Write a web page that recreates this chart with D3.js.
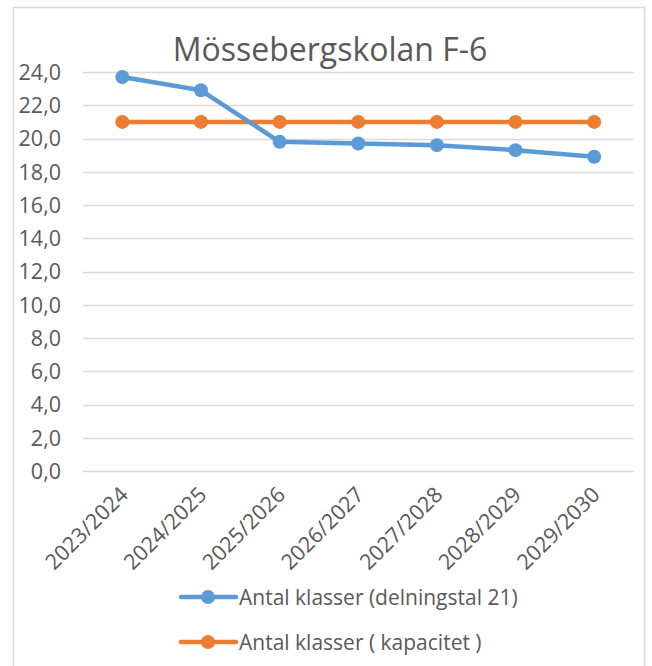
<!DOCTYPE html>
<html><head><meta charset="utf-8">
<script src="https://cdn.jsdelivr.net/npm/d3@7"></script>
<style>body{margin:0;background:#fff;}</style>
</head><body><svg id="c" width="652" height="666"></svg>
<script>
const categories = ["2023/2024","2024/2025","2025/2026","2026/2027","2027/2028","2028/2029","2029/2030"];
const seriesDelning = [23.7, 22.9, 19.8, 19.7, 19.6, 19.3, 18.9];
const seriesKapacitet = [21, 21, 21, 21, 21, 21, 21];
const seriesNames = ["Antal klasser (delningstal 21)", "Antal klasser ( kapacitet )"];
const yTicks = [0,2,4,6,8,10,12,14,16,18,20,22,24];
const title = "Mössebergskolan F-6";

const svg = d3.select("#c");
const font = '"Open Sans","Liberation Sans",sans-serif';
svg.append("rect").attr("x",13.5).attr("y",7.5).attr("width",631).attr("height",670)
  .attr("fill","#fff").attr("stroke","#d9d9d9").attr("stroke-width",1.5);

const x = d3.scaleBand().domain(categories).range([83,633.5]);
const y = d3.scaleLinear().domain([0,24]).range([471,72]);

svg.append("text").attr("x",330).attr("y",61).attr("text-anchor","middle")
  .attr("font-family",font).attr("font-size",32).attr("fill","#595959").text(title);

const grid = svg.append("g");
grid.selectAll("line").data(yTicks).join("line")
  .attr("x1",83).attr("x2",633.5).attr("y1",d=>Math.round(y(d))+0.5).attr("y2",d=>Math.round(y(d))+0.5)
  .attr("stroke","#d9d9d9").attr("stroke-width",1.3);

const fmt = d => d3.format(".1f")(d).replace(".",",");
const yAxis = d3.axisLeft(y).tickValues(yTicks).tickFormat(fmt).tickSize(0).tickPadding(0);
const gy = svg.append("g").attr("transform","translate(61,0)").call(yAxis);
gy.select(".domain").remove();
gy.selectAll("text").attr("font-family",font).attr("font-size",21.5).attr("fill","#595959").attr("dy","0.34em");

const xAxis = d3.axisBottom(x).tickSize(0);
const gx = svg.append("g").attr("transform","translate(0,471)").call(xAxis);
gx.select(".domain").remove();
gx.selectAll("text").attr("font-family",font).attr("font-size",21.5).attr("fill","#595959")
  .attr("text-anchor","end").attr("dy",0).attr("y",0)
  .attr("transform","translate(7,25) rotate(-45)");

const cx = d => x(d) + x.bandwidth()/2;
const line = d3.line().x(d=>cx(d[0])).y(d=>y(d[1]));
const series = [
  {vals: seriesKapacitet, color:"#ED7D31"},
  {vals: seriesDelning, color:"#5B9BD5"}
];
series.forEach(s=>{
  const pts = categories.map((c,i)=>[c,s.vals[i]]);
  svg.append("path").datum(pts).attr("d",line).attr("fill","none")
    .attr("stroke",s.color).attr("stroke-width",4.5).attr("stroke-linejoin","round");
  svg.append("g").selectAll("circle").data(pts).join("circle")
    .attr("cx",d=>cx(d[0])).attr("cy",d=>y(d[1])).attr("r",7).attr("fill",s.color);
});

const legend = [
  {name: seriesNames[0], color:"#5B9BD5", y:597},
  {name: seriesNames[1], color:"#ED7D31", y:642}
];
legend.forEach(l=>{
  svg.append("line").attr("x1",181).attr("x2",236).attr("y1",l.y).attr("y2",l.y)
    .attr("stroke",l.color).attr("stroke-width",4.5).attr("stroke-linecap","round");
  svg.append("circle").attr("cx",208).attr("cy",l.y).attr("r",7).attr("fill",l.color);
  svg.append("text").attr("x",239).attr("y",l.y+7.5).attr("font-family",font)
    .attr("font-size",21).attr("fill","#595959").text(l.name);
});
</script></body></html>
